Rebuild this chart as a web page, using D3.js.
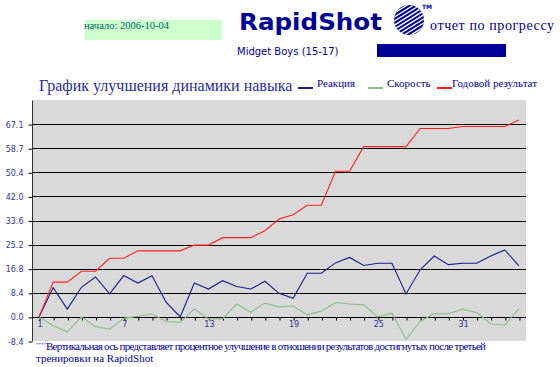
<!DOCTYPE html>
<html>
<head>
<meta charset="utf-8">
<script src="https://cdn.jsdelivr.net/npm/d3@7"></script>
<style>
  body { margin: 0; background: #fff; }
  svg { display: block; }
</style>
</head>
<body>
<script>
const largura = 560;
const altura = 367;

// dados
const sessoes = d3.range(1, 36);
const reakciya = [0, 10.2, 2.7, 10.3, 13.9, 8.0, 14.4, 11.8, 14.3, 5.1, 0, 11.8, 9.7, 12.6, 10.6, 9.7, 12.4, 8.2,
  6.5, 15.2, 15.2, 18.8, 20.7, 17.9, 18.7, 18.7, 8.0, 16.4, 21.2, 18.2, 18.7, 18.7, 21.2, 23.3, 17.8];
const skorost = [0, -3.1, -5.2, 0, -3.4, -4.3, -0.5, 0.2, 1.0, -1.6, -1.9, 2.8, -0.7, -0.7, 4.5, 1.6, 4.8, 3.5,
  3.8, 0.8, 2.0, 5.0, 4.5, 4.2, 0, 1.3, -7.8, -1.6, 1.2, 1.1, 2.7, 1.5, -2.4, -2.9, 2.9];
const godovoi = [0, 12.1, 12.1, 15.9, 15.9, 20.4, 20.4, 23.0, 23.0, 23.0, 23.0, 25.0, 25.0, 27.6, 27.6, 27.6, 30.0, 34.1,
  35.6, 38.9, 38.9, 50.7, 50.7, 59.3, 59.3, 59.3, 59.3, 65.6, 65.6, 65.6, 66.3, 66.3, 66.3, 66.3, 68.6];
const passoY = 8.392;
const rotulosY = ["-8.4", "0.0", "8.4", "16.8", "25.2", "33.6", "42.0", "50.4", "58.7", "67.1"];
const rotulosX = [1, 7, 13, 19, 25, 31];

const series = [
  { nome: "Реакция", valores: reakciya, cor: "#1c1c8c" },
  { nome: "Скорость", valores: skorost, cor: "#8cbc8c" },
  { nome: "Годовой результат", valores: godovoi, cor: "#ff2020" }
];

const azul = "#000099";

const svg = d3.select("body").append("svg")
  .attr("width", largura)
  .attr("height", altura);

// ---- cabeçalho ----
svg.append("rect")
  .attr("x", 85).attr("y", 20).attr("width", 137).attr("height", 20)
  .attr("fill", "#ccffcc");

svg.append("text")
  .attr("x", 84).attr("y", 28.5)
  .attr("font-family", "Liberation Serif")
  .attr("font-size", 10.5)
  .attr("fill", "#006666")
  .text("начало: 2006-10-04");

svg.append("text")
  .attr("x", 239).attr("y", 30)
  .attr("font-family", "DejaVu Sans")
  .attr("font-weight", "bold")
  .attr("font-size", 23)
  .attr("textLength", 143)
  .attr("lengthAdjust", "spacingAndGlyphs")
  .attr("fill", azul)
  .text("RapidShot");

// logotipo listrado
const logo = svg.append("g");
svg.append("clipPath").attr("id", "circulo")
  .append("circle").attr("cx", 409).attr("cy", 20).attr("r", 15);
logo.append("circle").attr("cx", 409).attr("cy", 20).attr("r", 15).attr("fill", azul);
const listras = logo.append("g").attr("clip-path", "url(#circulo)");
d3.range(-5, 6).forEach(i => {
  listras.append("line")
    .attr("x1", 385).attr("x2", 435)
    .attr("y1", 20 + i * 3.4).attr("y2", 20 + i * 3.4)
    .attr("transform", "rotate(-32,409,20)")
    .attr("stroke", "#fff").attr("stroke-width", 1.3);
});
svg.append("text")
  .attr("x", 422).attr("y", 9)
  .attr("font-family", "DejaVu Sans").attr("font-weight", "bold")
  .attr("font-size", 6).attr("fill", azul)
  .text("TM");

svg.append("text")
  .attr("x", 430).attr("y", 30)
  .attr("font-family", "Liberation Serif")
  .attr("font-size", 14)
  .attr("textLength", 124)
  .attr("fill", azul)
  .text("отчет по прогрессу");

svg.append("text")
  .attr("x", 237).attr("y", 55)
  .attr("font-family", "DejaVu Sans")
  .attr("font-size", 10)
  .attr("fill", azul)
  .text("Midget Boys (15-17)");

svg.append("rect")
  .attr("x", 377).attr("y", 44).attr("width", 129).attr("height", 13)
  .attr("fill", azul);

// ---- título e legenda ----
svg.append("text")
  .attr("x", 39).attr("y", 91)
  .attr("font-family", "Liberation Serif")
  .attr("font-size", 16)
  .attr("fill", "#2a2aa0")
  .text("График улучшения динамики навыка");

const legendaX = [298, 368, 437];
series.forEach((s, i) => {
  svg.append("line")
    .attr("x1", legendaX[i]).attr("x2", legendaX[i] + 15)
    .attr("y1", 88).attr("y2", 88)
    .attr("stroke", s.cor).attr("stroke-width", 2);
  svg.append("text")
    .attr("x", legendaX[i] + (i === 2 ? 15 : 19)).attr("y", 87)
    .attr("font-family", "Liberation Serif")
    .attr("font-size", 11)
    .attr("fill", azul)
    .text(s.nome);
});

// ---- área do gráfico ----
const margem = { esq: 32, dir: 526, topo: 100, base: 341 };

const x = d3.scalePoint()
  .domain(sessoes)
  .range([margem.esq, margem.dir])
  .padding(0.5);

const y = d3.scaleLinear()
  .domain([-passoY, passoY * 9])
  .range([margem.base, margem.topo]);

svg.append("rect")
  .attr("x", margem.esq).attr("y", margem.topo)
  .attr("width", margem.dir - margem.esq).attr("height", margem.base - margem.topo)
  .attr("fill", "#d9d9d9");

const valoresTicks = rotulosY.map((r, i) => (i - 1) * passoY);

// linhas de grade
svg.append("g")
  .selectAll("line")
  .data(valoresTicks.slice(1))
  .join("line")
  .attr("x1", margem.esq).attr("x2", margem.dir)
  .attr("y1", d => Math.round(y(d)) + 0.5).attr("y2", d => Math.round(y(d)) + 0.5)
  .attr("stroke", "#000").attr("stroke-width", 1);

// eixo y
const eixoY = svg.append("g")
  .attr("transform", `translate(${margem.esq + 0.5},0.5)`)
  .call(d3.axisLeft(y)
    .tickValues(valoresTicks)
    .tickFormat((d, i) => rotulosY[i])
    .tickSize(4)
    .tickPadding(5));
eixoY.select(".domain").attr("stroke", "#333").attr("d", `M0,${margem.topo}V${margem.base}`);
eixoY.selectAll(".tick line").attr("stroke", "#000");
eixoY.selectAll("text")
  .attr("font-family", "DejaVu Sans")
  .attr("font-size", 8)
  .attr("fill", "#333399");

// eixo x na linha do zero
const eixoX = svg.append("g")
  .attr("transform", `translate(0.5,${Math.round(y(0)) + 0.5})`)
  .call(d3.axisBottom(x)
    .tickValues(sessoes)
    .tickFormat(d => rotulosX.includes(d) ? d : "")
    .tickSize(3)
    .tickPadding(1));
eixoX.select(".domain").remove();
eixoX.selectAll(".tick line").attr("stroke", "#000");
eixoX.selectAll("text")
  .attr("font-family", "DejaVu Sans")
  .attr("font-size", 8)
  .attr("fill", "#333399");

// linhas das séries
const linha = d3.line()
  .x((d, i) => x(sessoes[i]))
  .y(d => y(d));

[series[1], series[0], series[2]].forEach(s => {
  svg.append("path")
    .datum(s.valores)
    .attr("d", linha)
    .attr("fill", "none")
    .attr("stroke", s.cor)
    .attr("stroke-width", 1.1);
});

// ---- nota de rodapé ----
const nota = svg.append("text")
  .attr("font-family", "Liberation Serif")
  .attr("fill", azul);
nota.append("tspan")
  .attr("x", 36).attr("y", 346)
  .attr("font-size", 5)
  .text("****");
nota.append("tspan")
  .attr("y", 350)
  .attr("font-size", 11)
  .attr("textLength", 440)
  .text("Вертикальная ось представляет процентное улучшение в отношении результатов достигнутых после третьей");
svg.append("text")
  .attr("x", 36).attr("y", 362)
  .attr("font-family", "Liberation Serif")
  .attr("font-size", 11)
  .attr("fill", azul)
  .text("тренировки на RapidShot");
</script>
</body>
</html>
